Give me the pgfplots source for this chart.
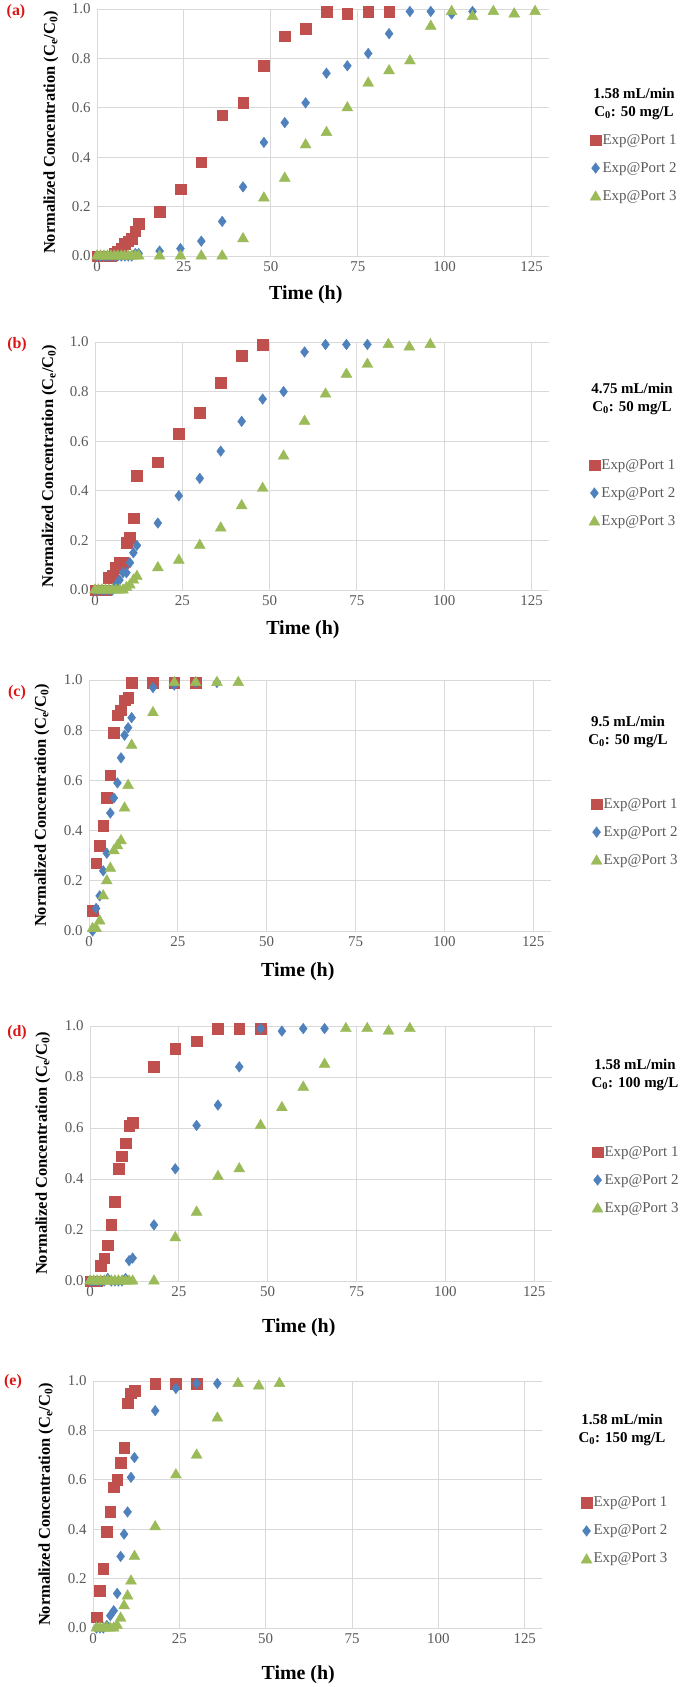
\documentclass[border=0pt]{standalone}
\usepackage{fontspec}
\setmainfont{Liberation Serif}
\usepackage{pgfplots}
\pgfplotsset{compat=1.18}
\definecolor{cred}{HTML}{C0504D}
\definecolor{cblue}{HTML}{4F81BD}
\definecolor{cgreen}{HTML}{9BBB59}
\definecolor{gridc}{HTML}{D9D9D9}
\definecolor{tickc}{HTML}{595959}
\definecolor{labred}{RGB}{220,20,20}
\pgfplotsset{
 panel/.style={
  scale only axis, xmin=0, xmax=130, ymin=0, ymax=1, clip=false,
  xtick={0,25,50,75,100,125}, ytick={0,0.2,0.4,0.6,0.8,1.0},
  grid=major, major grid style={gridc, line width=1bp},
  axis line style={draw=none}, tick style={draw=none},
  /pgf/number format/assume math mode=true,
  ticklabel style={font=\fontsize{15}{17}\selectfont, text=tickc},
  xticklabel style={yshift=-2bp},
  yticklabel style={xshift=-3bp, /pgf/number format/.cd, fixed, fixed zerofill, precision=1},
  xlabel={Time (h)},
  ylabel={Normalized Concentration (C\textsubscript{e}/C\textsubscript{0})},
  xlabel style={font=\fontsize{20}{24}\selectfont\bfseries, anchor=center},
  ylabel style={font=\fontsize{16.5}{20}\selectfont\bfseries, anchor=center},
  legend cell align=left,
  legend style={draw=none, fill=none, row sep=11bp, anchor=west,
    nodes={text height=11bp, text depth=3bp, inner sep=1.5bp, text=tickc,
           font=\fontsize{15}{17}\selectfont}},
 },
 p1/.style={only marks, mark=square*, mark size=5.3bp, color=cred, mark options={draw=none},
   legend image code/.code={\draw[##1] plot coordinates {(5bp,0bp)};}},
 p2/.style={only marks, mark=diamond*, mark size=5.3bp, color=cblue, mark options={draw=none},
   legend image code/.code={\draw[##1] plot coordinates {(5bp,0bp)};}},
 p3/.style={only marks, mark=triangle*, mark size=6.3bp, color=cgreen, mark options={draw=none},
   legend image code/.code={\draw[##1] plot coordinates {(5bp,-1bp)};}},
}
\newcommand{\ttl}{\fontsize{15}{18}\selectfont\bfseries}
\newcommand{\plab}{\fontsize{16}{18}\selectfont\bfseries\color{labred}}
\begin{document}
\begin{tikzpicture}
\path[use as bounding box] (0,0) rectangle (685bp,-1687bp);

% ---------------- (a)
\begin{axis}[panel, at={(97bp,-256bp)}, anchor=south west, width=452bp, height=247bp,
  xlabel style={at={(axis description cs:0.462,-0.158)}},
  ylabel style={at={(axis description cs:-0.102,0.5)}},
  legend style={at={(axis description cs:1.084,0.356)}}]
\addplot[p1] coordinates {(0,0)(1,0)(2,0)(3,0)(4,0)(5,0.01)(6,0.02)(7,0.03)(8,0.05)(9,0.06)(10,0.07)(11,0.10)(12,0.13)(18,0.18)(24,0.27)(30,0.38)(36,0.57)(42,0.62)(48,0.77)(54,0.89)(60,0.92)(66,0.99)(72,0.98)(78,0.99)(84,0.99)};
\addlegendentry{Exp@Port 1}
\addplot[p2] coordinates {(0,0)(1,0)(2,0)(3,0)(4,0)(5,0)(6,0)(7,0)(8,0)(9,0)(10,0)(11,0.01)(12,0.01)(18,0.02)(24,0.03)(30,0.06)(36,0.14)(42,0.28)(48,0.46)(54,0.54)(60,0.62)(66,0.74)(72,0.77)(78,0.82)(84,0.90)(90,0.99)(96,0.99)(102,0.98)(108,0.99)};
\addlegendentry{Exp@Port 2}
\addplot[p3] coordinates {(0,0)(1,0)(2,0)(3,0)(4,0)(5,0)(6,0)(7,0)(8,0)(9,0)(10,0)(11,0)(12,0)(18,0)(24,0)(30,0)(36,0)(42,0.07)(48,0.235)(54,0.315)(60,0.45)(66,0.50)(72,0.60)(78,0.70)(84,0.75)(90,0.79)(96,0.93)(102,0.99)(108,0.97)(114,0.99)(120,0.98)(126,0.99)};
\addlegendentry{Exp@Port 3}
\end{axis}
\node[font=\ttl, align=center] at (634bp,-104bp) {1.58 mL/min\\C\textsubscript{0}: 50 mg/L};
\node[font=\plab] at (16bp,-12bp) {(a)};

% ---------------- (b)
\begin{axis}[panel, at={(95bp,-590bp)}, anchor=south west, width=454bp, height=248bp,
  xlabel style={at={(axis description cs:0.458,-0.161)}},
  ylabel style={at={(axis description cs:-0.101,0.5)}},
  legend style={at={(axis description cs:1.081,0.391)}}]
\addplot[p1] coordinates {(0,0)(1,0)(2,0)(3,0)(4,0.05)(5,0.06)(6,0.09)(7,0.11)(8,0.11)(9,0.19)(10,0.21)(11,0.29)(12,0.46)(18,0.515)(24,0.63)(30,0.715)(36,0.835)(42,0.945)(48,0.99)};
\addlegendentry{Exp@Port 1}
\addplot[p2] coordinates {(0,0)(1,0)(2,0)(3,0)(4,0)(5,0)(6,0.02)(7,0.04)(8,0.07)(9,0.07)(10,0.11)(11,0.15)(12,0.18)(18,0.27)(24,0.38)(30,0.45)(36,0.56)(42,0.68)(48,0.77)(54,0.80)(60,0.96)(66,0.99)(72,0.99)(78,0.99)};
\addlegendentry{Exp@Port 2}
\addplot[p3] coordinates {(0,0)(1,0)(2,0)(3,0)(4,0)(5,0)(6,0)(7,0)(8,0)(9,0.01)(10,0.02)(11,0.04)(12,0.055)(18,0.09)(24,0.12)(30,0.18)(36,0.25)(42,0.34)(48,0.41)(54,0.54)(60,0.68)(66,0.79)(72,0.87)(78,0.91)(84,0.99)(90,0.98)(96,0.99)};
\addlegendentry{Exp@Port 3}
\end{axis}
\node[font=\ttl, align=center] at (632bp,-399bp) {4.75 mL/min\\C\textsubscript{0}: 50 mg/L};
\node[font=\plab] at (17bp,-345bp) {(b)};

% ---------------- (c)
\begin{axis}[panel, at={(89bp,-931bp)}, anchor=south west, width=462bp, height=251bp,
  xlabel style={at={(axis description cs:0.452,-0.163)}},
  ylabel style={at={(axis description cs:-0.102,0.5)}},
  legend style={at={(axis description cs:1.080,0.394)}}]
\addplot[p1] coordinates {(1,0.08)(2,0.27)(3,0.34)(4,0.42)(5,0.53)(6,0.62)(7,0.79)(8,0.86)(9,0.88)(10,0.92)(11,0.93)(12,0.99)(18,0.99)(24,0.99)(30,0.99)};
\addlegendentry{Exp@Port 1}
\addplot[p2] coordinates {(1,0)(2,0.09)(3,0.14)(4,0.24)(5,0.31)(6,0.47)(7,0.53)(8,0.59)(9,0.69)(10,0.78)(11,0.81)(12,0.85)(18,0.97)(24,0.98)(30,0.99)(36,0.99)};
\addlegendentry{Exp@Port 2}
\addplot[p3] coordinates {(1,0.01)(2,0.01)(3,0.04)(4,0.14)(5,0.20)(6,0.25)(7,0.32)(8,0.34)(9,0.36)(10,0.49)(11,0.58)(12,0.74)(18,0.87)(24,0.99)(30,0.99)(36,0.99)(42,0.99)};
\addlegendentry{Exp@Port 3}
\end{axis}
\node[font=\ttl, align=center] at (628bp,-732bp) {9.5 mL/min\\C\textsubscript{0}: 50 mg/L};
\node[font=\plab] at (17bp,-693bp) {(c)};

% ---------------- (d)
\begin{axis}[panel, at={(90bp,-1281bp)}, anchor=south west, width=462bp, height=255bp,
  xlabel style={at={(axis description cs:0.452,-0.184)}},
  ylabel style={at={(axis description cs:-0.102,0.5)}},
  legend style={at={(axis description cs:1.080,0.396)}}]
\addplot[p1] coordinates {(0,0)(1,0)(2,0)(3,0.06)(4,0.09)(5,0.14)(6,0.22)(7,0.31)(8,0.44)(9,0.49)(10,0.54)(11,0.61)(12,0.62)(18,0.84)(24,0.91)(30,0.94)(36,0.99)(42,0.99)(48,0.99)};
\addlegendentry{Exp@Port 1}
\addplot[p2] coordinates {(0,0)(1,0)(2,0)(3,0)(4,0)(5,0.01)(6,0)(7,0)(8,0)(9,0)(10,0.01)(11,0.08)(12,0.09)(18,0.22)(24,0.44)(30,0.61)(36,0.69)(42,0.84)(48,0.99)(54,0.98)(60,0.99)(66,0.99)};
\addlegendentry{Exp@Port 2}
\addplot[p3] coordinates {(0,0)(1,0)(2,0)(3,0)(4,0)(5,0)(6,0)(7,0)(8,0)(9,0)(10,0)(11,0)(12,0)(18,0)(24,0.17)(30,0.27)(36,0.41)(42,0.44)(48,0.61)(54,0.68)(60,0.76)(66,0.85)(72,0.99)(78,0.99)(84,0.98)(90,0.99)};
\addlegendentry{Exp@Port 3}
\end{axis}
\node[font=\ttl, align=center] at (635bp,-1075bp) {1.58 mL/min\\C\textsubscript{0}: 100 mg/L};
\node[font=\plab] at (17bp,-1033bp) {(d)};

% ---------------- (e)
\begin{axis}[panel, at={(93bp,-1628bp)}, anchor=south west, width=449bp, height=247bp,
  xlabel style={at={(axis description cs:0.457,-0.190)}},
  ylabel style={at={(axis description cs:-0.105,0.5)}},
  legend style={at={(axis description cs:1.080,0.393)}}]
\addplot[p1] coordinates {(1,0.044)(2,0.15)(3,0.24)(4,0.39)(5,0.47)(6,0.57)(7,0.60)(8,0.67)(9,0.73)(10,0.91)(11,0.95)(12,0.96)(18,0.99)(24,0.99)(30,0.99)};
\addlegendentry{Exp@Port 1}
\addplot[p2] coordinates {(1,0)(2,0)(3,0)(4,0.01)(5,0.05)(6,0.07)(7,0.14)(8,0.29)(9,0.38)(10,0.47)(11,0.61)(12,0.69)(18,0.88)(24,0.97)(30,0.99)(36,0.99)};
\addlegendentry{Exp@Port 2}
\addplot[p3] coordinates {(1,0)(2,0)(3,0)(4,0)(5,0)(6,0)(7,0.01)(8,0.04)(9,0.09)(10,0.13)(11,0.19)(12,0.29)(18,0.41)(24,0.62)(30,0.70)(36,0.85)(42,0.99)(48,0.98)(54,0.99)};
\addlegendentry{Exp@Port 3}
\end{axis}
\node[font=\ttl, align=center] at (622bp,-1430bp) {1.58 mL/min\\C\textsubscript{0}: 150 mg/L};
\node[font=\plab] at (13bp,-1382bp) {(e)};
\end{tikzpicture}
\end{document}
